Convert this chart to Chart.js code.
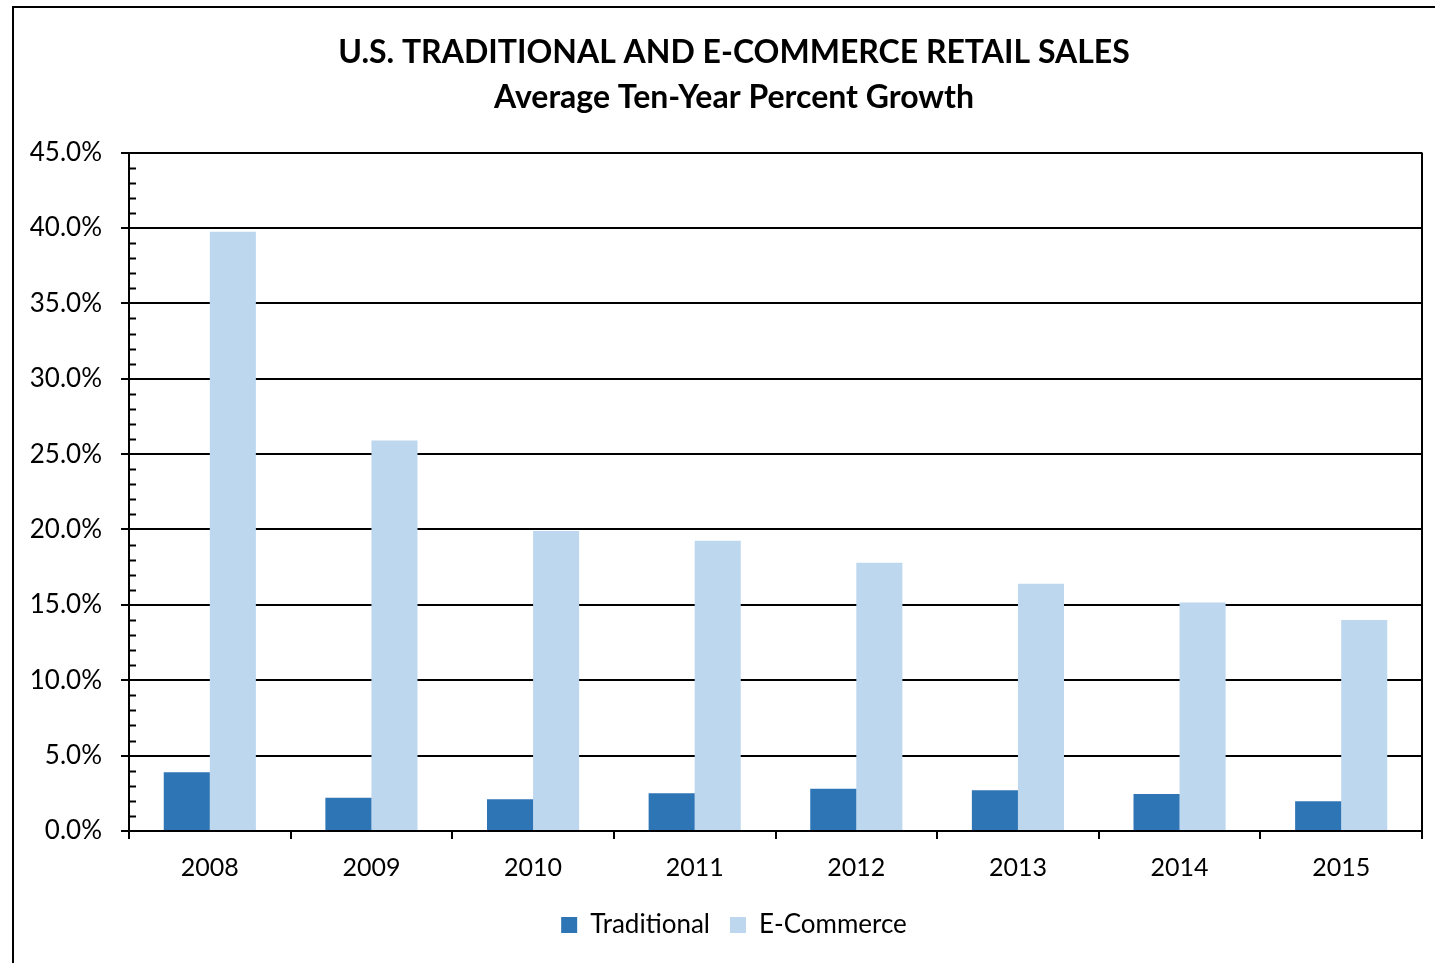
<!DOCTYPE html>
<html>
<head>
<meta charset="utf-8">
<script src="https://cdn.jsdelivr.net/npm/chart.js@4/dist/chart.umd.min.js"></script>
<style>
  html, body { margin: 0; padding: 0; background: #fff; }
  #wrap { width: 1435px; height: 963px; position: relative; }
</style>
</head>
<body>
<div id="wrap"><canvas id="salesChart"></canvas></div>
<script>
// data
const years = ['2008', '2009', '2010', '2011', '2012', '2013', '2014', '2015'];
const traditional = [3.9, 2.2, 2.1, 2.5, 2.8, 2.7, 2.45, 1.97];
const ecommerce = [39.75, 25.9, 19.9, 19.25, 17.8, 16.4, 15.15, 14.0];
const titleLines = ['U.S. TRADITIONAL AND E-COMMERCE RETAIL SALES', 'Average Ten-Year Percent Growth'];

const FONT = 'Lato, "Open Sans", sans-serif';

// outer frame + minor ticks + plot border
const framePlugin = {
  id: 'frame',
  afterLayout(chart) {
    // y labels sit partly in the left padding, let them draw there
    chart.scales.y.left = 0;
  },
  beforeDraw(chart) {
    const ctx = chart.ctx;
    ctx.save();
    ctx.fillStyle = '#fff';
    ctx.fillRect(0, 0, chart.width, chart.height);
    ctx.strokeStyle = '#000';
    ctx.lineWidth = 2;
    ctx.beginPath();
    ctx.moveTo(13, chart.height + 5);
    ctx.lineTo(13, 7);
    ctx.lineTo(chart.width + 5, 7);
    ctx.stroke();
    ctx.restore();
  },
  afterDraw(chart) {
    const ctx = chart.ctx;
    const y = chart.scales.y;
    const area = chart.chartArea;
    ctx.save();
    ctx.strokeStyle = '#000';
    ctx.lineWidth = 2;
    for (let v = 1; v < 45; v++) {
      if (v % 5 === 0) continue;
      const py = Math.round(y.getPixelForValue(v)) + 0.5;
      ctx.beginPath();
      ctx.moveTo(area.left, py);
      ctx.lineTo(area.left + 7, py);
      ctx.stroke();
    }
    // right border of the plot
    ctx.beginPath();
    ctx.moveTo(area.right, area.top);
    ctx.lineTo(area.right, area.bottom);
    ctx.stroke();
    ctx.restore();
  }
};

window.onload = () => {
  const ctx = document.getElementById('salesChart');
  new Chart(ctx, {
    type: 'bar',
    data: {
      labels: years,
      datasets: [
        { label: 'Traditional', data: traditional, backgroundColor: '#2E75B6', borderWidth: 0 },
        { label: 'E-Commerce', data: ecommerce, backgroundColor: '#BDD7EE', borderWidth: 0 }
      ]
    },
    options: {
      responsive: true,
      maintainAspectRatio: false,
      animation: false,
      // left padding shifts title/legend centre to match; y axis width makes up the rest
      layout: { padding: { left: 46, right: 13, top: 0, bottom: 15 } },
      datasets: { bar: { categoryPercentage: 0.57, barPercentage: 1.0 } },
      plugins: {
        title: {
          display: true,
          text: titleLines,
          color: '#000',
          font: { family: FONT, size: 32, weight: 'bold', lineHeight: 1.4 },
          padding: { top: 30, bottom: 33 }
        },
        legend: {
          position: 'bottom',
          labels: {
            color: '#000',
            font: { family: FONT, size: 26 },
            boxWidth: 16,
            boxHeight: 16,
            padding: 20
          }
        },
        tooltip: { enabled: false }
      },
      scales: {
        x: {
          grid: { offset: true, drawOnChartArea: false, color: '#000', lineWidth: 2, tickLength: 8 },
          border: { color: '#000', width: 2 },
          ticks: { color: '#000', font: { family: FONT, size: 25 }, padding: 14, maxRotation: 0 },
          afterFit: (s) => { s.height = 61; }
        },
        y: {
          min: 0,
          max: 45,
          grid: { color: '#000', lineWidth: 2, tickLength: 8 },
          border: { color: '#000', width: 2 },
          ticks: {
            stepSize: 5,
            color: '#000',
            font: { family: FONT, size: 26 },
            padding: 19,
            callback: (v) => v.toFixed(1) + '%'
          },
          afterFit: (s) => { s.width = 83; }
        }
      }
    },
    plugins: [framePlugin]
  });
};
</script>
</body>
</html>
